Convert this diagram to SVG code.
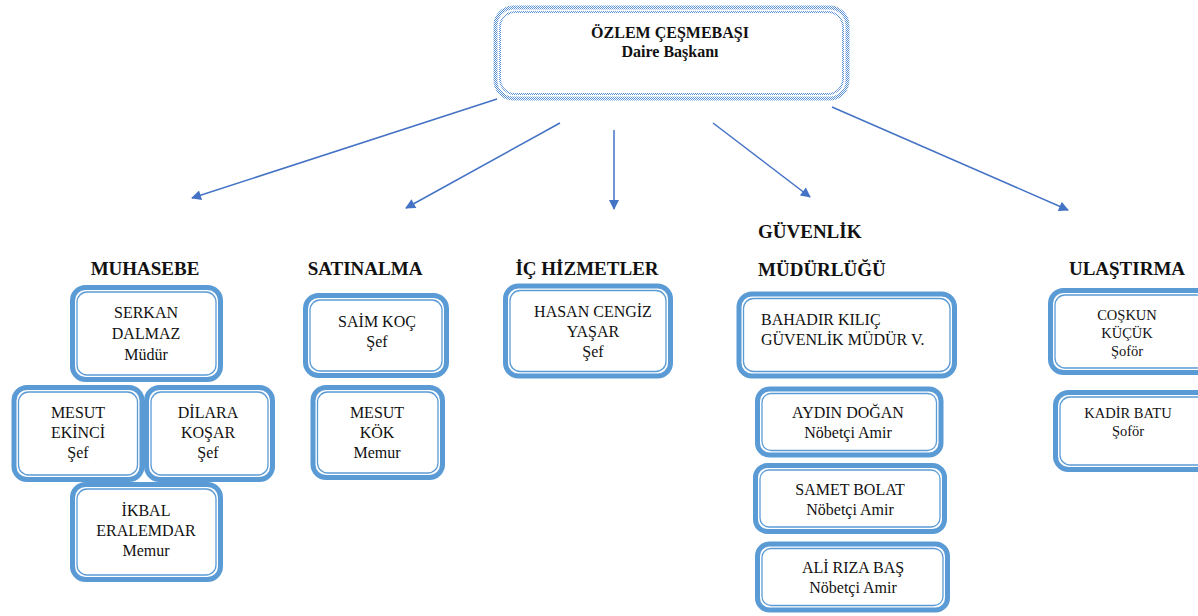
<svg xmlns="http://www.w3.org/2000/svg" width="1198" height="616" viewBox="0 0 1198 616">
<style>
text{font-family:"Liberation Serif","Times New Roman",serif;fill:#111;}
.t{font-size:16px;text-anchor:middle;}
.ts{font-size:14.5px;text-anchor:middle;}
.tl{font-size:16px;}
.h{font-size:19px;font-weight:bold;}
.hc{font-size:19px;font-weight:bold;text-anchor:middle;}
.o{fill:#fff;stroke:#5B9BD5;stroke-width:5;}
.i{fill:none;stroke:#5B9BD5;stroke-width:1.3;}
.c{fill:none;stroke:#4472C4;stroke-width:1.5;marker-end:url(#ah);}
</style>
<defs>
<pattern id="chk" width="2" height="2" patternUnits="userSpaceOnUse">
<rect width="2" height="2" fill="#fff"/>
<rect width="1" height="1" fill="#5B93D6"/>
<rect x="1" y="1" width="1" height="1" fill="#5B93D6"/>
</pattern>
<marker id="ah" viewBox="0 0 10 10" refX="9" refY="5" markerWidth="11" markerHeight="10" markerUnits="userSpaceOnUse" orient="auto">
<path d="M0,0 L10,5 L0,10 z" fill="#4472C4"/>
</marker>
</defs>
<rect width="1198" height="616" fill="#fff"/>

<g id="connectors">
<line class="c" x1="497" y1="99" x2="192" y2="198"/>
<line class="c" x1="560" y1="123" x2="406" y2="208"/>
<line class="c" x1="614" y1="130" x2="614" y2="209"/>
<line class="c" x1="713" y1="123" x2="810" y2="197"/>
<line class="c" x1="832" y1="107" x2="1068" y2="210"/>
</g>

<g id="root">
<rect x="495.5" y="7.5" width="352" height="91" rx="18" fill="#fff" stroke="url(#chk)" stroke-width="4"/>
<rect x="500" y="12" width="343" height="82" rx="15" fill="none" stroke="url(#chk)" stroke-width="2"/>
<text x="670" y="38" class="t" font-weight="bold">ÖZLEM ÇEŞMEBAŞI</text>
<text x="670" y="57" class="t" font-weight="bold">Daire Başkanı</text>
</g>

<g id="muhasebe-heading"><text x="145" y="275" class="hc">MUHASEBE</text></g>
<g id="satinalma-heading"><text x="365" y="275" class="hc">SATINALMA</text></g>
<g id="ichizmetler-heading"><text x="587" y="275" class="hc">İÇ HİZMETLER</text></g>
<g id="guvenlik-heading"><text x="758" y="238" class="h">GÜVENLİK</text><text x="758" y="276" class="h">MÜDÜRLÜĞÜ</text></g>
<g id="ulastirma-heading"><text x="1127" y="275" class="hc">ULAŞTIRMA</text></g>

<g id="serkan">
<rect class="o" x="72.5" y="287.5" width="148" height="92" rx="13"/>
<rect class="i" x="77" y="292" width="139" height="83" rx="10"/>
<text x="146" y="318" class="t">SERKAN</text><text x="146" y="339" class="t">DALMAZ</text><text x="146" y="360" class="t">Müdür</text>
</g>
<g id="mesut-ekinci">
<rect class="o" x="14" y="387.5" width="128" height="92" rx="13"/>
<rect class="i" x="18.5" y="392" width="119" height="83" rx="10"/>
<text x="78" y="418" class="t">MESUT</text><text x="78" y="438" class="t">EKİNCİ</text><text x="78" y="458" class="t">Şef</text>
</g>
<g id="dilara">
<rect class="o" x="146.5" y="387.5" width="126" height="92" rx="13"/>
<rect class="i" x="151" y="392" width="117" height="83" rx="10"/>
<text x="208" y="418" class="t">DİLARA</text><text x="208" y="438" class="t">KOŞAR</text><text x="208" y="458" class="t">Şef</text>
</g>
<g id="ikbal">
<rect class="o" x="72.5" y="484.5" width="148" height="95" rx="13"/>
<rect class="i" x="77" y="489" width="139" height="86" rx="10"/>
<text x="146" y="516" class="t">İKBAL</text><text x="146" y="536" class="t">ERALEMDAR</text><text x="146" y="556" class="t">Memur</text>
</g>

<g id="saim">
<rect class="o" x="305.5" y="295.5" width="141" height="80" rx="13"/>
<rect class="i" x="310" y="300" width="132" height="71" rx="10"/>
<text x="377" y="327" class="t">SAİM KOÇ</text><text x="377" y="347" class="t">Şef</text>
</g>
<g id="mesut-kok">
<rect class="o" x="313" y="387.5" width="129.5" height="90" rx="13"/>
<rect class="i" x="317.5" y="392" width="120.5" height="81" rx="10"/>
<text x="377" y="418" class="t">MESUT</text><text x="377" y="438" class="t">KÖK</text><text x="377" y="458" class="t">Memur</text>
</g>

<g id="hasan">
<rect class="o" x="505.5" y="286" width="165" height="90" rx="13"/>
<rect class="i" x="510" y="290.5" width="156" height="81" rx="10"/>
<text x="593" y="317" class="t">HASAN CENGİZ</text><text x="593" y="337" class="t">YAŞAR</text><text x="593" y="357" class="t">Şef</text>
</g>

<g id="bahadir">
<rect class="o" x="739" y="294" width="215.5" height="82" rx="13"/>
<rect class="i" x="743.5" y="298.5" width="206.5" height="73" rx="10"/>
<text x="761" y="325" class="tl">BAHADIR KILIÇ</text><text x="761" y="345" class="tl">GÜVENLİK MÜDÜR V.</text>
</g>
<g id="aydin">
<rect class="o" x="757.5" y="389" width="183.5" height="66" rx="12"/>
<rect class="i" x="762" y="393.5" width="174.5" height="57" rx="9"/>
<text x="848" y="418" class="t">AYDIN DOĞAN</text><text x="848" y="438" class="t">Nöbetçi Amir</text>
</g>
<g id="samet">
<rect class="o" x="755.5" y="465.5" width="189" height="66" rx="12"/>
<rect class="i" x="760" y="470" width="180" height="57" rx="9"/>
<text x="850" y="495" class="t">SAMET BOLAT</text><text x="850" y="515" class="t">Nöbetçi Amir</text>
</g>
<g id="ali">
<rect class="o" x="757.5" y="544" width="190" height="66" rx="12"/>
<rect class="i" x="762" y="548.5" width="181" height="57" rx="9"/>
<text x="853" y="573" class="t">ALİ RIZA BAŞ</text><text x="853" y="593" class="t">Nöbetçi Amir</text>
</g>

<g id="coskun">
<rect class="o" x="1050.5" y="290.5" width="160" height="82" rx="13"/>
<rect class="i" x="1055" y="295" width="151" height="73" rx="10"/>
<text x="1127" y="320" class="ts">COŞKUN</text><text x="1127" y="338" class="ts">KÜÇÜK</text><text x="1127" y="356" class="ts">Şoför</text>
</g>
<g id="kadir">
<rect class="o" x="1055.5" y="392.5" width="160" height="77" rx="13"/>
<rect class="i" x="1060" y="397" width="151" height="68" rx="10"/>
<text x="1128" y="418" class="ts">KADİR BATU</text><text x="1128" y="436" class="ts">Şoför</text>
</g>
</svg>
